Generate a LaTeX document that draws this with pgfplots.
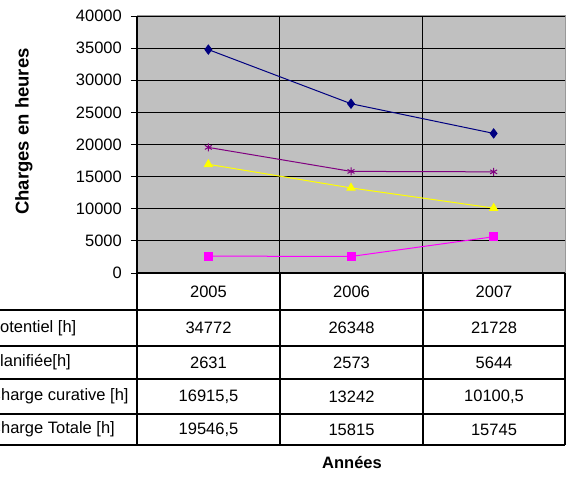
\documentclass[border=0pt]{standalone}
\usepackage{fontspec}
\setmainfont{Liberation Sans}
\usepackage{pgfplots}
\pgfplotsset{compat=1.18}
\definecolor{plotgray}{HTML}{C0C0C0}
\definecolor{navyc}{HTML}{000080}
\definecolor{magc}{HTML}{FF00FF}
\definecolor{yelc}{HTML}{FFFF00}
\definecolor{purc}{HTML}{800080}
\newcommand{\tf}{\fontsize{16.5}{18}\selectfont}
\begin{document}
\begin{tikzpicture}[x=1pt,y=1pt]
\path[use as bounding box] (0,0) rectangle (570,477);
\begin{axis}[
  at={(137pt,204pt)}, anchor=south west,
  scale only axis, width=428pt, height=257pt,
  xmin=0, xmax=3, ymin=0, ymax=40000,
  xtick={1,2}, xticklabels={}, xtick style={draw=none},
  ytick={0,5000,...,40000}, ytick pos=left,
  tick align=outside, major tick length=6pt,
  ytick style={black, line width=1pt},
  xmajorgrids, ymajorgrids,
  grid style={black, line width=1.2pt},
  axis line style={draw=none},
  axis background/.style={fill=plotgray},
  scaled y ticks=false,
  yticklabel style={font=\tf, anchor=east, inner sep=0pt, xshift=-9pt},
  /pgf/number format/assume math mode=true,
  /pgf/number format/1000 sep={},
  clip=false,
]
\addplot[navyc, line width=1pt, mark=diamond*, mark size=4.5pt, mark options={fill=navyc}]
  coordinates {(0.5,34772) (1.5,26348) (2.5,21728)};
\addplot[magc, line width=1pt, mark=square*, mark size=4pt, mark options={fill=magc}]
  coordinates {(0.5,2631) (1.5,2573) (2.5,5644)};
\addplot[yelc, line width=1pt, mark=triangle*, mark size=4.5pt, mark options={fill=yelc}]
  coordinates {(0.5,16915.5) (1.5,13242) (2.5,10100.5)};
\addplot[purc, line width=1pt, mark=asterisk, mark size=4pt, mark options={line width=1pt}]
  coordinates {(0.5,19546.5) (1.5,15815) (2.5,15745)};
\end{axis}
% plot frame
\draw[gray!80, line width=1pt] (137,461) -- (565,461) -- (565,204);
\draw[black, line width=1.2pt] (137,461) -- (137,204);
% data table
\begin{scope}[line width=1.2pt, black]
\draw (137,204) -- (565,204);
\foreach \yy in {167,131,98,63,32} \draw (-5,\yy) -- (565,\yy);
\foreach \xx in {137,280,423,565} \draw (\xx,204) -- (\xx,32);
\end{scope}
\begin{scope}[font=\tf, inner sep=0pt]
\node at (208.5,185.5) {2005};
\node at (351.5,185.5) {2006};
\node at (494,185.5) {2007};
\node[anchor=west] at (-11,149) {Potentiel [h]};
\node[anchor=west] at (-11,114.5) {Planifiée[h]};
\node[anchor=west] at (-11,80.5) {Charge curative [h]};
\node[anchor=west] at (-11,47.5) {Charge Totale [h]};
\node at (208.5,149) {34772};
\node at (351.5,149) {26348};
\node at (494,149) {21728};
\node at (208.5,114.5) {2631};
\node at (351.5,114.5) {2573};
\node at (494,114.5) {5644};
\node at (208.5,80.5) {16915,5};
\node at (351.5,80.5) {13242};
\node at (494,80.5) {10100,5};
\node at (208.5,47.5) {19546,5};
\node at (351.5,47.5) {15815};
\node at (494,47.5) {15745};
\end{scope}
\node[rotate=90, font=\bfseries\fontsize{18.5}{20}\selectfont] at (24,345.5) {Charges en heures};
\node[font=\bfseries\fontsize{16.5}{18}\selectfont] at (352,14) {Années};
\end{tikzpicture}
\end{document}
